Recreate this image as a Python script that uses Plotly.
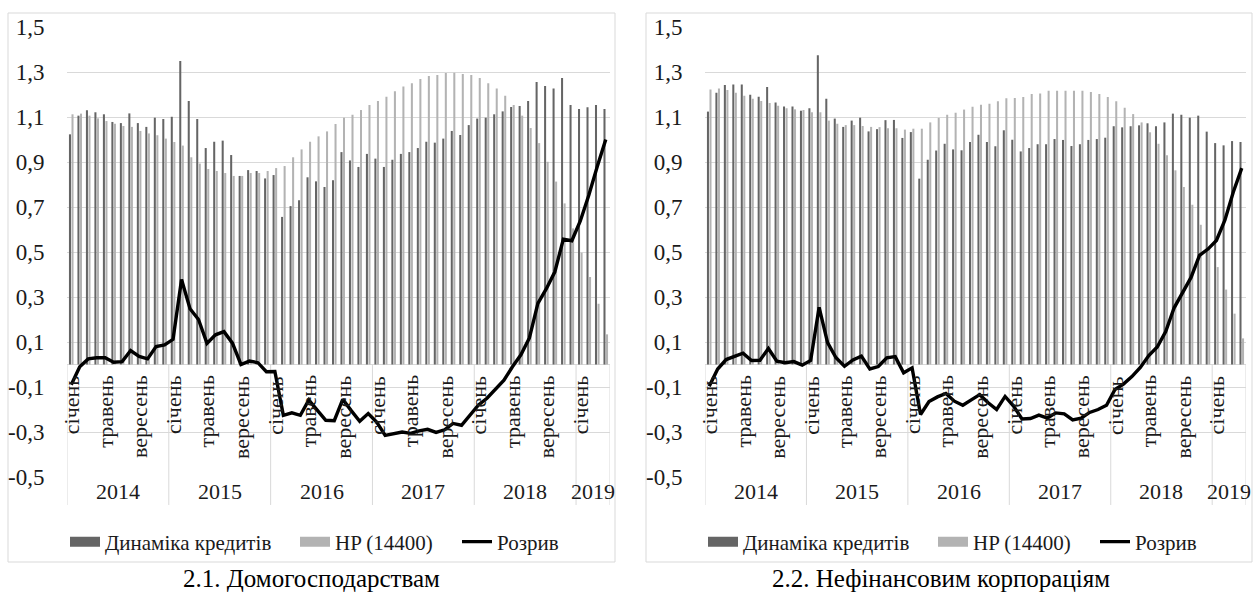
import plotly.graph_objects as go

W, H = 1253, 595

# ---------------- data ----------------
months = list(range(64))  # Jan 2014 .. Apr 2019
month_names = ["січень", "травень", "вересень"]
years = ["2014", "2015", "2016", "2017", "2018", "2019"]
year_first = [0, 12, 24, 36, 48, 60]
year_last = [11, 23, 35, 47, 59, 63]
yticks = [-0.5, -0.3, -0.1, 0.1, 0.3, 0.5, 0.7, 0.9, 1.1, 1.3, 1.5]
ytick_text = ["-0,5", "-0,3", "-0,1", "0,1", "0,3", "0,5", "0,7", "0,9", "1,1", "1,3", "1,5"]

# 2.1 Households
hh_credit = [1.023, 1.106, 1.130, 1.121, 1.112, 1.078, 1.073, 1.116, 1.073, 1.056, 1.097, 1.091,
             1.101, 1.349, 1.171, 1.091, 0.962, 0.990, 0.995, 0.931, 0.838, 0.864, 0.860, 0.827,
             0.842, 0.656, 0.704, 0.730, 0.832, 0.814, 0.789, 0.819, 0.944, 0.907, 0.878, 0.936,
             0.915, 0.878, 0.910, 0.936, 0.944, 0.962, 0.990, 0.986, 1.004, 1.038, 1.020, 1.064,
             1.093, 1.097, 1.112, 1.125, 1.144, 1.149, 1.171, 1.256, 1.238, 1.227, 1.273, 1.153,
             1.136, 1.143, 1.153, 1.136]
hh_hp = [1.112, 1.115, 1.106, 1.094, 1.082, 1.070, 1.060, 1.056, 1.038, 1.027, 1.019, 1.004,
         0.989, 0.973, 0.921, 0.893, 0.869, 0.860, 0.851, 0.838, 0.838, 0.851, 0.851, 0.860,
         0.873, 0.882, 0.921, 0.956, 0.990, 1.014, 1.036, 1.069, 1.097, 1.110, 1.131, 1.153,
         1.171, 1.190, 1.214, 1.236, 1.250, 1.269, 1.282, 1.287, 1.296, 1.297, 1.291, 1.287,
         1.273, 1.250, 1.227, 1.195, 1.153, 1.106, 1.051, 0.984, 0.901, 0.813, 0.716, 0.605,
         0.497, 0.389, 0.270, 0.134]
hh_gap = [-0.090, -0.010, 0.025, 0.030, 0.030, 0.010, 0.013, 0.062, 0.036, 0.025, 0.080, 0.087,
          0.112, 0.378, 0.248, 0.200, 0.094, 0.132, 0.146, 0.095, 0.000, 0.015, 0.008, -0.032,
          -0.031, -0.226, -0.215, -0.226, -0.158, -0.205, -0.248, -0.250, -0.155, -0.205, -0.252, -0.218,
          -0.256, -0.315, -0.306, -0.300, -0.306, -0.295, -0.288, -0.302, -0.290, -0.262, -0.270, -0.223,
          -0.180, -0.150, -0.112, -0.070, -0.010, 0.043, 0.118, 0.272, 0.337, 0.412, 0.557, 0.550,
          0.638, 0.752, 0.880, 1.000]

# 2.2 Non-financial corporations
nf_credit = [1.124, 1.208, 1.242, 1.245, 1.245, 1.199, 1.190, 1.233, 1.165, 1.147, 1.147, 1.128,
             1.139, 1.375, 1.181, 1.093, 1.056, 1.084, 1.097, 1.036, 1.046, 1.086, 1.087, 1.007,
             1.033, 0.826, 0.910, 0.951, 0.981, 0.956, 0.952, 0.989, 1.021, 0.989, 0.970, 1.041,
             0.999, 0.947, 0.962, 0.979, 0.979, 1.002, 0.998, 0.971, 0.979, 0.998, 1.002, 1.008,
             1.059, 1.054, 1.059, 1.063, 1.072, 1.059, 1.076, 1.115, 1.110, 1.097, 1.106, 1.035,
             0.984, 0.974, 0.993, 0.989]
nf_hp = [1.222, 1.227, 1.220, 1.208, 1.195, 1.181, 1.171, 1.162, 1.150, 1.139, 1.134, 1.131,
         1.121, 1.121, 1.084, 1.070, 1.064, 1.064, 1.060, 1.056, 1.055, 1.050, 1.050, 1.044,
         1.048, 1.048, 1.076, 1.096, 1.110, 1.119, 1.133, 1.146, 1.155, 1.159, 1.170, 1.183,
         1.184, 1.189, 1.202, 1.204, 1.217, 1.217, 1.217, 1.217, 1.217, 1.211, 1.202, 1.189,
         1.170, 1.141, 1.113, 1.076, 1.032, 0.981, 0.930, 0.863, 0.789, 0.710, 0.621, 0.522,
         0.433, 0.333, 0.226, 0.116]
nf_gap = [-0.097, -0.020, 0.022, 0.037, 0.050, 0.018, 0.019, 0.071, 0.015, 0.008, 0.013, -0.003,
          0.018, 0.254, 0.097, 0.030, -0.008, 0.020, 0.037, -0.020, -0.009, 0.030, 0.035, -0.037,
          -0.015, -0.222, -0.165, -0.144, -0.129, -0.163, -0.181, -0.157, -0.134, -0.170, -0.200, -0.142,
          -0.185, -0.242, -0.240, -0.225, -0.238, -0.215, -0.219, -0.246, -0.238, -0.213, -0.200, -0.181,
          -0.111, -0.087, -0.054, -0.013, 0.040, 0.078, 0.146, 0.252, 0.321, 0.387, 0.485, 0.513,
          0.551, 0.641, 0.767, 0.873]

series_names = ["Динаміка кредитів", "HP (14400)", "Розрив"]
titles = ["2.1. Домогосподарствам", "2.2. Нефінансовим корпораціям"]

# ---------------- style ----------------
FONT = "Liberation Serif, Times New Roman, DejaVu Serif, serif"
DARK = "#656565"
LIGHT = "#b3b3b3"
GRID = "#d9d9d9"
TXT = "#1a1a1a"

def fx(p):
    return p / W

def fy(p):
    return 1 - p / H

panels = [
    dict(credit=hh_credit, hp=hh_hp, gap=hh_gap, xa="x", ya="y", legend="legend",
         plot=(67, 610), frame=(8, 615), title_x=311),
    dict(credit=nf_credit, hp=nf_hp, gap=nf_gap, xa="x2", ya="y2", legend="legend2",
         plot=(705, 1246), frame=(646, 1252), title_x=941),
]
PLOT_TOP, PLOT_BOT = 27, 477
FRAME_TOP, FRAME_BOT = 13, 562
legend_widths = [185, 117, 70]

fig = go.Figure()
shapes = []
annotations = []

for k, p in enumerate(panels):
    g = "p%d" % k
    fig.add_trace(go.Bar(x=months, y=p["credit"], name=series_names[0], marker_color=DARK,
                         marker_line_width=0, xaxis=p["xa"], yaxis=p["ya"], legend=p["legend"],
                         legendgroup=g + "a", showlegend=False))
    fig.add_trace(go.Bar(x=months, y=p["hp"], name=series_names[1], marker_color=LIGHT,
                         marker_line_width=0, xaxis=p["xa"], yaxis=p["ya"], legend=p["legend"],
                         legendgroup=g + "b", showlegend=False))
    fig.add_trace(go.Scatter(x=months, y=p["gap"], name=series_names[2], mode="lines",
                             line=dict(color="black", width=3.4),
                             xaxis=p["xa"], yaxis=p["ya"], legend=p["legend"],
                             legendgroup=g + "c", showlegend=False))
    # legend entries (wide swatches like the original)
    for nm, col, wd, lg, lw in [(series_names[0], DARK, 10, g + "a", legend_widths[0]),
                                (series_names[1], LIGHT, 10, g + "b", legend_widths[1]),
                                (series_names[2], "black", 3.4, g + "c", legend_widths[2])]:
        fig.add_trace(go.Scatter(x=[None], y=[None], name=nm, mode="lines",
                                 line=dict(color=col, width=wd), xaxis=p["xa"], yaxis=p["ya"],
                                 legend=p["legend"], legendgroup=lg, showlegend=True,
                                 legendwidth=lw, hoverinfo="skip"))

    # frame
    shapes.append(dict(type="rect", xref="paper", yref="paper",
                       x0=fx(p["frame"][0]), x1=fx(p["frame"][1]),
                       y0=fy(FRAME_BOT), y1=fy(FRAME_TOP),
                       line=dict(color=GRID, width=1), layer="below"))
    # category separators (year groups)
    bounds = [year_first[0] - 0.5] + [e + 0.5 for e in year_last]
    for b in bounds:
        shapes.append(dict(type="line", xref=p["xa"], yref=p["ya"] + " domain",
                           x0=b, x1=b, y0=0.25, y1=-0.0622,
                           line=dict(color=GRID, width=1), layer="below"))
    # month labels
    for i in range(0, 64, 4):
        annotations.append(dict(text=month_names[(i // 4) % 3], x=i, y=0, xref=p["xa"], yref=p["ya"],
                                textangle=-90, xanchor="center", yanchor="top", yshift=-9,
                                showarrow=False, font=dict(family=FONT, size=22, color=TXT)))
    # year labels
    for yl, a, b in zip(years, year_first, year_last):
        annotations.append(dict(text=yl, x=(a + b) / 2, y=-0.5, xref=p["xa"], yref=p["ya"],
                                yanchor="middle", yshift=-14, showarrow=False,
                                font=dict(family=FONT, size=22, color=TXT)))
    # panel title
    annotations.append(dict(text=titles[k], x=fx(p["title_x"]), y=fy(578),
                            xref="paper", yref="paper", xanchor="center", yanchor="middle",
                            showarrow=False, font=dict(family=FONT, size=25, color="black")))

axis_common_x = dict(range=[-0.5, 63.5], showgrid=False, zeroline=False, showticklabels=False,
                     ticks="", showline=False, fixedrange=True)
axis_common_y = dict(range=[-0.5, 1.5], tickvals=yticks, ticktext=ytick_text, showgrid=True,
                     gridcolor=GRID, gridwidth=1, zeroline=True, zerolinecolor=GRID, zerolinewidth=1,
                     showline=False, ticks="outside", ticklen=17, tickcolor="rgba(0,0,0,0)",
                     tickfont=dict(family=FONT, size=23, color=TXT), fixedrange=True)

legend_common = dict(orientation="h", xanchor="left", yanchor="middle", y=fy(542),
                     font=dict(family=FONT, size=21, color=TXT), bgcolor="rgba(0,0,0,0)",
                     traceorder="normal", borderwidth=0)

fig.update_layout(
    width=W, height=H, margin=dict(l=0, r=0, t=0, b=0, autoexpand=False),
    paper_bgcolor="white", plot_bgcolor="white",
    barmode="group", bargap=0.4, bargroupgap=0.2,
    font=dict(family=FONT, color=TXT),
    xaxis=dict(domain=[fx(67), fx(610)], anchor="y", **axis_common_x),
    yaxis=dict(domain=[fy(PLOT_BOT), fy(PLOT_TOP)], anchor="x", **axis_common_y),
    xaxis2=dict(domain=[fx(705), fx(1246)], anchor="y2", **axis_common_x),
    yaxis2=dict(domain=[fy(PLOT_BOT), fy(PLOT_TOP)], anchor="x2", **axis_common_y),
    legend=dict(x=fx(65), **legend_common),
    legend2=dict(x=fx(703), **legend_common),
    shapes=shapes,
    annotations=annotations,
)

fig.write_html("out.html", config={"displayModeBar": False, "staticPlot": True},
               post_script="document.body.style.margin='0';document.body.style.overflow='hidden';"
                           "document.documentElement.style.overflow='hidden';")
